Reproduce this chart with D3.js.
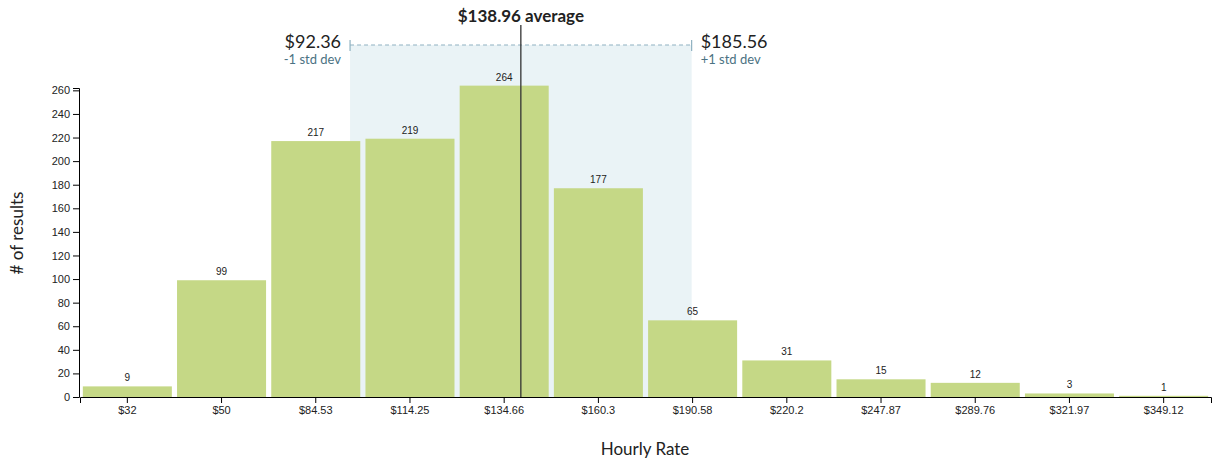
<!DOCTYPE html>
<html>
<head>
<meta charset="utf-8">
<script src="https://cdn.jsdelivr.net/npm/d3@7"></script>
<style>
    body { margin: 0; background: #fff; }
    .tick text { font-family: "Liberation Sans", Arial, sans-serif; font-size: 11px; fill: #222; }
    .barLabel { font-family: "Liberation Sans", Arial, sans-serif; font-size: 10px; fill: #222; }
    .axisTitle { font-family: "Lato", "Noto Sans", sans-serif; font-size: 17px; fill: #222; }
    .stat { font-family: "Lato", "Noto Sans", sans-serif; fill: #222; }
    .statSub { font-family: "Lato", "Noto Sans", sans-serif; font-size: 13px; fill: #4b7283; }
</style>
</head>
<body>
<div class="chart"></div>
<script>
// bins of hourly rate (tick labels) and how many results fell in each
const rateLabels = ["$32", "$50", "$84.53", "$114.25", "$134.66", "$160.3", "$190.58",
    "$220.2", "$247.87", "$289.76", "$321.97", "$349.12"];
const counts = [9, 99, 217, 219, 264, 177, 65, 31, 15, 12, 3, 1];
const average = 138.96;
const stdDev = [92.36, 185.56];
const yTicks = [0, 20, 40, 60, 80, 100, 120, 140, 160, 180, 200, 220, 240, 260];

const width = 1212, height = 461;
const margin = {left: 79, right: 1, top: 88, bottom: 64};

const svg = d3.select(".chart")
    .append("svg")
    .attr("width", width)
    .attr("height", height);

const x = d3.scaleBand()
    .domain(rateLabels)
    .range([margin.left + 1, width - margin.right])
    .paddingInner(0.055)
    .paddingOuter(0.03);

// continuous dollar scale across the same span, used for the average / std dev markers
const rate = d3.scaleLinear()
    .domain([18.4, 327])
    .range([margin.left, width - margin.right - 1]);

const y = d3.scaleLinear()
    .domain([0, 262])
    .range([height - margin.bottom, margin.top]);

// std dev band (behind the bars)
const band = svg.append("g");
band.append("rect")
    .attr("x", rate(stdDev[0]))
    .attr("y", 45)
    .attr("width", rate(stdDev[1]) - rate(stdDev[0]))
    .attr("height", y(0) - 45)
    .attr("fill", "#eaf3f6");
band.append("line")
    .attr("x1", rate(stdDev[0])).attr("x2", rate(stdDev[1]))
    .attr("y1", 45).attr("y2", 45)
    .attr("stroke", "#8fb1c1")
    .attr("stroke-width", 1.2)
    .attr("stroke-dasharray", "4,3");
band.selectAll(".endTick")
    .data(stdDev).enter()
    .append("line")
    .attr("class", "endTick")
    .attr("x1", d => rate(d)).attr("x2", d => rate(d))
    .attr("y1", 40).attr("y2", 51)
    .attr("stroke", "#8fb1c1")
    .attr("stroke-width", 1.2);

// bars
svg.selectAll(".bar")
    .data(counts).enter()
    .append("rect")
    .attr("class", "bar")
    .attr("x", (d, i) => x(rateLabels[i]))
    .attr("y", d => y(d))
    .attr("width", x.bandwidth())
    .attr("height", d => y(0) - y(d))
    .attr("fill", "#c5d886");

svg.selectAll(".barLabel")
    .data(counts).enter()
    .append("text")
    .attr("class", "barLabel")
    .attr("x", (d, i) => x(rateLabels[i]) + x.bandwidth() / 2)
    .attr("y", d => y(d) - 5)
    .attr("text-anchor", "middle")
    .text(d => d);

// axes
svg.append("g")
    .attr("transform", `translate(0,${y(0)})`)
    .call(d3.axisBottom(x).tickSizeOuter(6));

svg.append("g")
    .attr("transform", `translate(${margin.left},0)`)
    .call(d3.axisLeft(y).tickValues(yTicks).tickSizeOuter(6));

// average line
svg.append("line")
    .attr("x1", rate(average)).attr("x2", rate(average))
    .attr("y1", 25).attr("y2", y(0))
    .attr("stroke", "#333")
    .attr("stroke-width", 1.3);

svg.append("text")
    .attr("class", "stat")
    .attr("x", rate(average))
    .attr("y", 22)
    .attr("text-anchor", "middle")
    .style("font-size", "17px")
    .style("font-weight", "bold")
    .text("$" + average + " average");

// std dev labels
svg.append("text")
    .attr("class", "stat")
    .attr("x", rate(stdDev[0]) - 9)
    .attr("y", 48)
    .attr("text-anchor", "end")
    .style("font-size", "18px")
    .text("$" + stdDev[0]);
svg.append("text")
    .attr("class", "statSub")
    .attr("x", rate(stdDev[0]) - 9)
    .attr("y", 64)
    .attr("text-anchor", "end")
    .text("-1 std dev");
svg.append("text")
    .attr("class", "stat")
    .attr("x", rate(stdDev[1]) + 9)
    .attr("y", 48)
    .style("font-size", "18px")
    .text("$" + stdDev[1]);
svg.append("text")
    .attr("class", "statSub")
    .attr("x", rate(stdDev[1]) + 9)
    .attr("y", 64)
    .text("+1 std dev");

// axis titles
svg.append("text")
    .attr("class", "axisTitle")
    .attr("x", (margin.left + width - margin.right) / 2)
    .attr("y", 455)
    .attr("text-anchor", "middle")
    .text("Hourly Rate");

svg.append("text")
    .attr("class", "axisTitle")
    .attr("transform", "translate(23,233) rotate(-90)")
    .attr("text-anchor", "middle")
    .text("# of results");
</script>
</body>
</html>
